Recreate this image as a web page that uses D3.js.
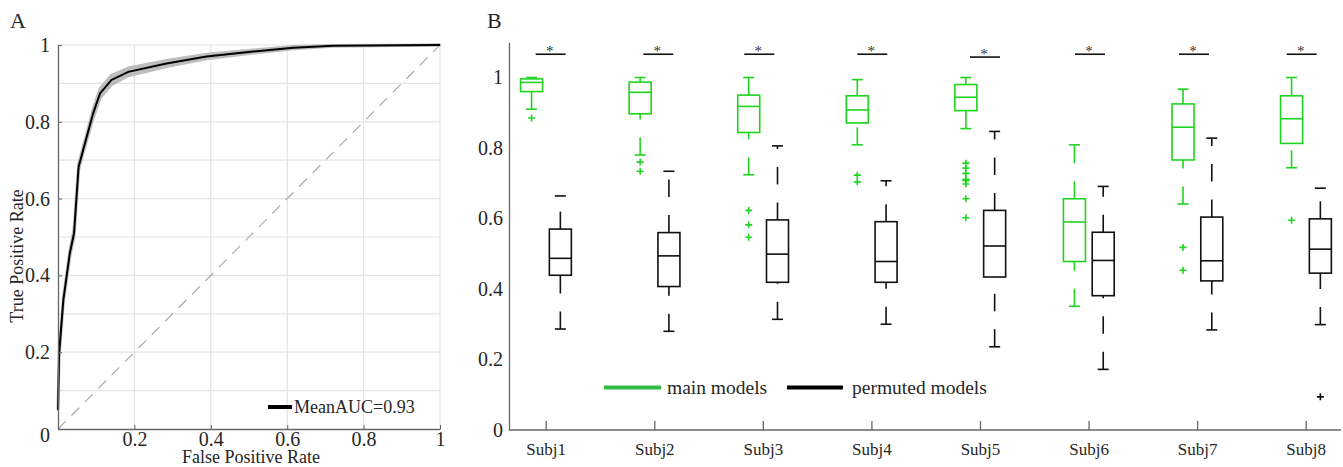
<!DOCTYPE html>
<html>
<head>
<meta charset="utf-8">
<script src="https://cdn.jsdelivr.net/npm/d3@7"></script>
<style>
  body { margin: 0; background: #fff; }
  text { font-family: "Liberation Serif", "DejaVu Serif", serif; fill: #262626; }
</style>
</head>
<body>
<div id="chart"></div>
<script>
// ---- panel A: ROC curve ----
const fpr    = [0, 0.003, 0.014, 0.031, 0.042, 0.054, 0.066, 0.092, 0.11, 0.14, 0.184, 0.284, 0.389, 0.511, 0.616, 0.72, 1]
const tpr    = [0.05, 0.197, 0.336, 0.458, 0.51, 0.683, 0.727, 0.822, 0.874, 0.909, 0.93, 0.952, 0.97, 0.983, 0.993, 0.998, 1]
const tprLo  = [0.05, 0.19, 0.33, 0.45, 0.50, 0.675, 0.72, 0.81, 0.862, 0.897, 0.92, 0.944, 0.964, 0.979, 0.99, 0.997, 1]
const tprHi  = [0.05, 0.20, 0.34, 0.465, 0.52, 0.69, 0.735, 0.832, 0.886, 0.921, 0.94, 0.96, 0.976, 0.987, 0.996, 0.999, 1]
const rocTicks = [0, 0.2, 0.4, 0.6, 0.8, 1]
const legendA = "MeanAUC=0.93"

// ---- panel B: box plots, [lower whisker, q1, median, q3, upper whisker] ----
const subjects = ["Subj1", "Subj2", "Subj3", "Subj4", "Subj5", "Subj6", "Subj7", "Subj8"]
const mainStats = [
  [0.91, 0.96, 0.986, 0.996, 1.0],
  [0.78, 0.897, 0.958, 0.987, 1.0],
  [0.724, 0.844, 0.918, 0.950, 1.0],
  [0.809, 0.871, 0.908, 0.948, 0.994],
  [0.855, 0.906, 0.944, 0.980, 1.0],
  [0.351, 0.478, 0.590, 0.656, 0.809],
  [0.641, 0.766, 0.859, 0.925, 0.967],
  [0.744, 0.813, 0.883, 0.948, 1.0]
]
const mainOutliers = [
  [0.885],
  [0.760, 0.734],
  [0.623, 0.582, 0.547],
  [0.723, 0.704],
  [0.757, 0.743, 0.728, 0.711, 0.707, 0.698, 0.656, 0.602],
  [],
  [0.518, 0.453],
  [0.595]
]
const permStats = [
  [0.2865, 0.439, 0.487, 0.570, 0.664],
  [0.28, 0.407, 0.494, 0.560, 0.734],
  [0.314, 0.419, 0.499, 0.596, 0.806],
  [0.300, 0.419, 0.478, 0.591, 0.707],
  [0.236, 0.434, 0.522, 0.623, 0.847],
  [0.172, 0.381, 0.481, 0.561, 0.691],
  [0.284, 0.423, 0.480, 0.604, 0.828],
  [0.299, 0.445, 0.513, 0.599, 0.686]
]
const permOutliers = [[], [], [], [], [], [], [], [0.094]]
const sigPos = [1.046, 2.037, 2.967, 4.008, 5.046, 6.013, 6.971, 7.963]
const sigLevel = [1.066, 1.066, 1.066, 1.066, 1.058, 1.066, 1.066, 1.066]
const boxTicks = [0, 0.2, 0.4, 0.6, 0.8, 1]
const seriesNames = ["main models", "permuted models"]

const width = 1343, height = 467
const green = "#1fd41f", legendGreen = "#33bb44", axisColor = "#666"

const svg = d3.select("#chart").append("svg")
    .attr("width", width).attr("height", height)

// ================= Panel A =================
const xA = d3.scaleLinear().domain([0, 1]).range([58, 440])
const yA = d3.scaleLinear().domain([0, 1]).range([429, 45])
const gA = svg.append("g")

// grid
gA.selectAll(".vgrid").data(d3.range(1, 6).map(i => i * 0.2))
  .enter().append("line")
  .attr("x1", d => xA(d)).attr("x2", d => xA(d))
  .attr("y1", yA(0)).attr("y2", yA(1))
  .attr("stroke", "#e3e3e3").attr("stroke-width", 1.2)
gA.selectAll(".hgrid").data(d3.range(1, 11).map(i => i / 10))
  .enter().append("line")
  .attr("x1", xA(0)).attr("x2", xA(1))
  .attr("y1", d => yA(d)).attr("y2", d => yA(d))
  .attr("stroke", "#e3e3e3").attr("stroke-width", 1.2)

// chance line
gA.append("line")
  .attr("x1", xA(0)).attr("y1", yA(0)).attr("x2", xA(1)).attr("y2", yA(1))
  .attr("stroke", "#aaa").attr("stroke-width", 1.2)
  .attr("stroke-dasharray", "11,8")

const rocData = fpr.map((f, i) => ({ f: f, t: tpr[i], lo: tprLo[i], hi: tprHi[i] }))

gA.append("path").datum(rocData)
  .attr("d", d3.area().x(d => xA(d.f)).y0(d => yA(d.lo)).y1(d => yA(d.hi)))
  .attr("fill", "#bdbdbd")
  .attr("stroke", "#bdbdbd").attr("stroke-width", 3).attr("stroke-linejoin", "round")

gA.append("path").datum(rocData)
  .attr("d", d3.line().x(d => xA(d.f)).y(d => yA(d.t)))
  .attr("fill", "none").attr("stroke", "#000").attr("stroke-width", 2)

// axes
const axA_x = gA.append("g").attr("transform", `translate(0,${yA(0)})`)
  .call(d3.axisBottom(xA).tickValues(rocTicks.slice(1)).tickFormat(d3.format("~g"))
    .tickSizeInner(-4).tickSizeOuter(0).tickPadding(3))
const axA_y = gA.append("g").attr("transform", `translate(${xA(0)},0)`)
  .call(d3.axisLeft(yA).tickValues(rocTicks).tickFormat(d3.format("~g"))
    .tickSizeInner(-4).tickSizeOuter(0).tickPadding(8))
;[axA_x, axA_y].forEach(a => {
  a.attr("font-size", null).attr("font-family", null)
  a.select(".domain").attr("stroke", axisColor).attr("stroke-width", 1.3)
  a.selectAll(".tick line").attr("stroke", axisColor)
  a.selectAll("text").style("font-size", "20px").style("fill", "#262626")
    .style("font-family", "Liberation Serif")
})
axA_y.selectAll(".tick").filter(d => d === 0).select("text").attr("dy", "0.6em")

// legend A
gA.append("line").attr("x1", 268).attr("x2", 292).attr("y1", 407).attr("y2", 407)
  .attr("stroke", "#000").attr("stroke-width", 4)
gA.append("text").attr("x", 294).attr("y", 413).style("font-size", "18px").text(legendA)

gA.append("text").attr("x", 251).attr("y", 463).attr("text-anchor", "middle")
  .style("font-size", "18px").text("False Positive Rate")
gA.append("text").attr("transform", "translate(23,256) rotate(-90)")
  .attr("text-anchor", "middle").style("font-size", "18px").text("True Positive Rate")
svg.append("text").attr("x", 10).attr("y", 28).style("font-size", "22px").text("A")

// ================= Panel B =================
const xB = d3.scaleLinear().domain([1, 8]).range([545.7, 1305.7])
const yB = d3.scaleLinear().domain([0, 1.1]).range([430, 42.25])
const gB = svg.append("g")
const boxW = 22, capW = 11, offMain = -0.13, offPerm = 0.135

const axB_x = gB.append("g").attr("transform", `translate(0,${yB(0)})`)
  .call(d3.axisBottom(xB).tickValues(d3.range(1, 9)).tickFormat(d => subjects[d - 1])
    .tickSizeInner(-9).tickSizeOuter(0).tickPadding(13))
axB_x.select(".domain").attr("d", `M509,0H1341`)
const axB_y = gB.append("g").attr("transform", `translate(509,0)`)
  .call(d3.axisLeft(yB).tickValues(boxTicks).tickFormat(d3.format("~g"))
    .tickSize(0).tickPadding(6))
;[axB_x, axB_y].forEach(a => {
  a.attr("font-size", null).attr("font-family", null)
  a.select(".domain").attr("stroke", axisColor).attr("stroke-width", 1.3)
  a.selectAll(".tick line").attr("stroke", axisColor).attr("stroke-width", 1.3)
  a.selectAll("text").style("font-size", "20px").style("fill", "#262626")
    .style("font-family", "Liberation Serif")
})
axB_x.selectAll("text").style("font-size", "17px")

function drawBoxes(stats, outliers, offset, color) {
  const g = gB.append("g")
  const grp = g.selectAll(".box").data(stats).enter().append("g")
  const cx = (d, i) => xB(i + 1 + offset)
  grp.append("rect")
    .attr("x", (d, i) => cx(d, i) - boxW / 2).attr("width", boxW)
    .attr("y", d => yB(d[3])).attr("height", d => yB(d[1]) - yB(d[3]))
    .attr("fill", "none").attr("stroke", color).attr("stroke-width", 1.6)
  grp.append("line")
    .attr("x1", (d, i) => cx(d, i) - boxW / 2).attr("x2", (d, i) => cx(d, i) + boxW / 2)
    .attr("y1", d => yB(d[2])).attr("y2", d => yB(d[2]))
    .attr("stroke", color).attr("stroke-width", 1.6)
  // whiskers drawn from low value to high value (dash phase as in original)
  grp.append("line")
    .attr("x1", (d, i) => cx(d, i)).attr("x2", (d, i) => cx(d, i))
    .attr("y1", d => yB(d[3])).attr("y2", d => yB(d[4]))
    .attr("stroke", color).attr("stroke-width", 1.6).attr("stroke-dasharray", "17.5,18")
  grp.append("line")
    .attr("x1", (d, i) => cx(d, i)).attr("x2", (d, i) => cx(d, i))
    .attr("y1", d => yB(d[0])).attr("y2", d => yB(d[1]))
    .attr("stroke", color).attr("stroke-width", 1.6).attr("stroke-dasharray", "17.5,18")
  ;[0, 4].forEach(k => {
    grp.append("line")
      .attr("x1", (d, i) => cx(d, i) - capW / 2).attr("x2", (d, i) => cx(d, i) + capW / 2)
      .attr("y1", d => yB(d[k])).attr("y2", d => yB(d[k]))
      .attr("stroke", color).attr("stroke-width", 1.6)
  })
  const pts = []
  outliers.forEach((arr, i) => arr.forEach(v => pts.push({ p: i + 1 + offset, v: v })))
  g.selectAll(".out").data(pts).enter().append("path")
    .attr("d", d => `M${xB(d.p) - 3.5},${yB(d.v)}h7M${xB(d.p)},${yB(d.v) - 3.5}v7`)
    .attr("stroke", color).attr("stroke-width", 1.6).attr("fill", "none")
}
drawBoxes(mainStats, mainOutliers, offMain, green)
drawBoxes(permStats, permOutliers, offPerm, "#111")

// significance markers
const sig = gB.selectAll(".sig").data(sigPos).enter().append("g")
sig.append("line")
  .attr("x1", d => xB(d) - 15).attr("x2", d => xB(d) + 15)
  .attr("y1", (d, i) => yB(sigLevel[i])).attr("y2", (d, i) => yB(sigLevel[i]))
  .attr("stroke", "#111").attr("stroke-width", 1.6)
sig.append("text")
  .attr("x", d => xB(d) - 1).attr("y", (d, i) => yB(sigLevel[i]) + 2)
  .attr("text-anchor", "middle").style("font-size", "15px").style("fill", "#333").text("*")

// legend B
const legB = [
  { name: seriesNames[0], color: legendGreen, x1: 604, x2: 661, tx: 667 },
  { name: seriesNames[1], color: "#000", x1: 787, x2: 843, tx: 852 }
]
legB.forEach(l => {
  gB.append("line").attr("x1", l.x1).attr("x2", l.x2).attr("y1", 387.5).attr("y2", 387.5)
    .attr("stroke", l.color).attr("stroke-width", 4)
  gB.append("text").attr("x", l.tx).attr("y", 393.5).style("font-size", "19.5px").text(l.name)
})
svg.append("text").attr("x", 487).attr("y", 28).style("font-size", "22px").text("B")
</script>
</body>
</html>
